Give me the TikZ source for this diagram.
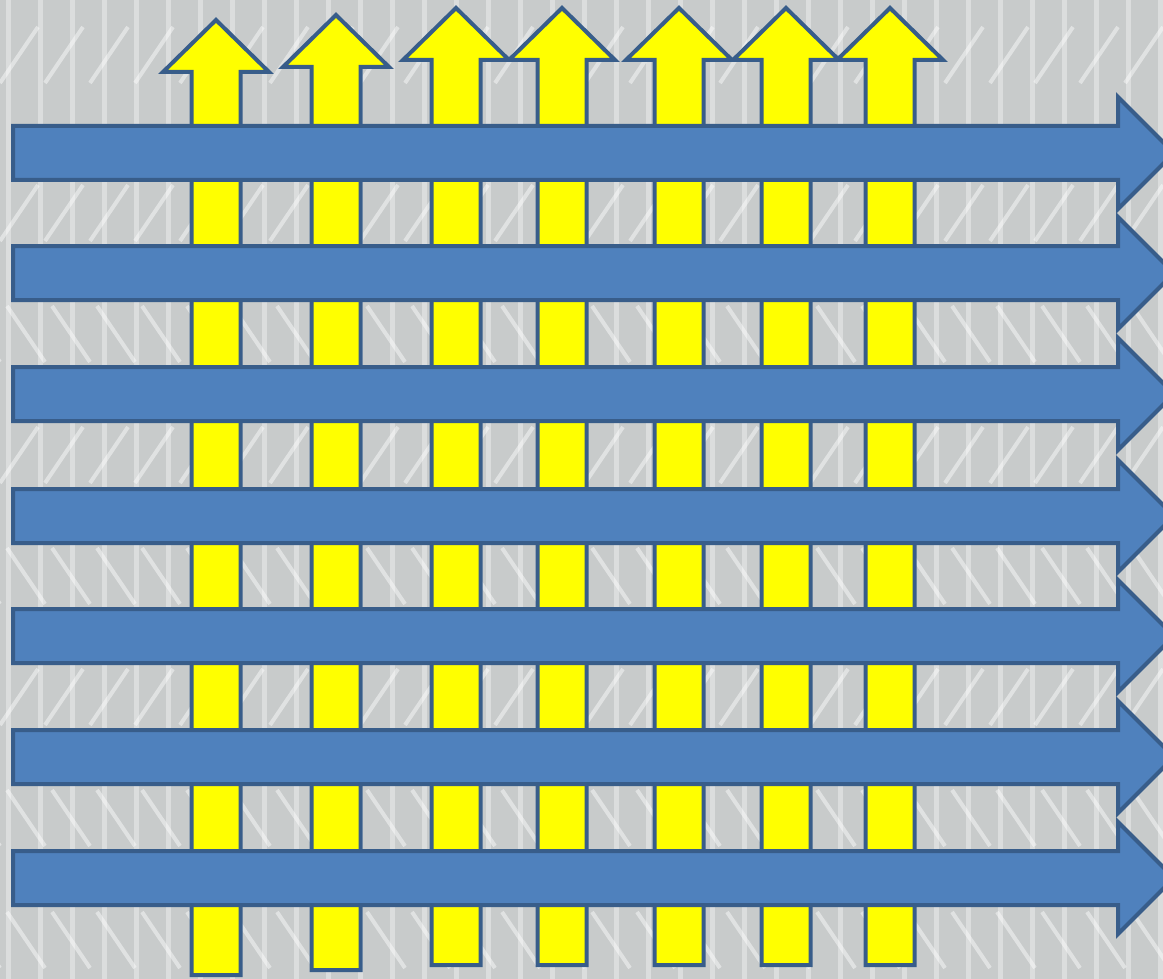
\documentclass[tikz,border=0pt]{standalone}
\definecolor{bgfill}{RGB}{200,203,203}
\definecolor{edgeblue}{RGB}{56,93,138}
\definecolor{bluefill}{RGB}{79,129,189}
\definecolor{yelfill}{RGB}{255,255,0}
\tikzset{
  yellowarrow/.style={fill=yelfill, draw=edgeblue, line width=4pt, line join=miter},
  bluearrow/.style={fill=bluefill, draw=edgeblue, line width=4pt, line join=miter},
  streak/.style={white, opacity=0.35, line width=5pt},
  zig/.style={white, opacity=0.45, line width=4pt}
}
\begin{document}
\begin{tikzpicture}[x=1pt,y=-1pt]
\useasboundingbox (0,0) rectangle (1163,979);
\clip (0,0) rectangle (1163,979);
% background texture
\fill[bgfill] (0,0) rectangle (1163,979);
\foreach \x in {8,40,...,1163} \draw[streak] (\x,0) -- (\x,979);
\foreach \yc/\d in {55/1,213/1,334/-1,455/1,576/-1,697/1,818/-1,940/-1}{
  \foreach \x in {0,45,...,1200}{
    \draw[zig] (\x,\yc+28) -- (\x+38*\d,\yc-28);
  }
}
% yellow vertical arrows: centre x / tip y / head base y / bottom y
\foreach \cx/\tp/\hb/\bt in {216/20/72/975, 336/15/67/970, 456/8/60/965, 562/8/60/965, 679/8/60/965, 786/8/60/965, 890/8/60/965}{
  \filldraw[yellowarrow] (\cx-24.5,\bt) -- (\cx-24.5,\hb) -- (\cx-53,\hb) -- (\cx,\tp)
     -- (\cx+53,\hb) -- (\cx+24.5,\hb) -- (\cx+24.5,\bt) -- cycle;
}
% blue horizontal arrows: centre y
\foreach \cy in {153,273,394,516,636,757,878}{
  \filldraw[bluearrow] (13,\cy-27) -- (1118,\cy-27) -- (1118,\cy-56) -- (1174,\cy)
     -- (1118,\cy+56) -- (1118,\cy+27) -- (13,\cy+27) -- cycle;
}
\end{tikzpicture}
\end{document}
